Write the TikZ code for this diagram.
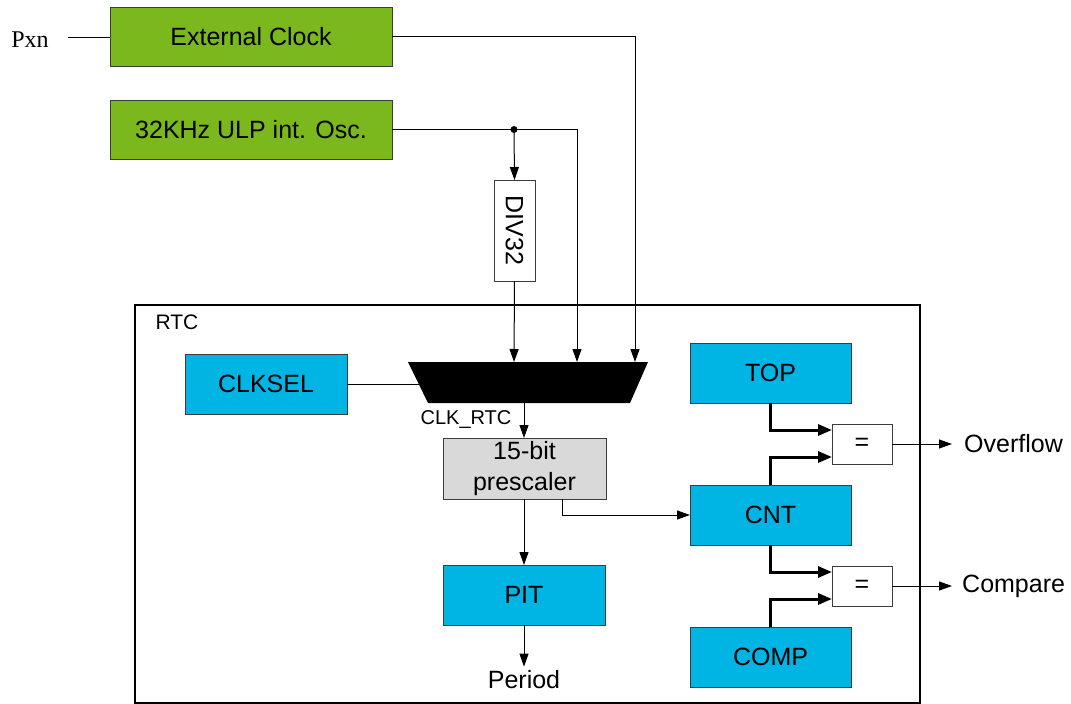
\documentclass[tikz,border=0pt]{standalone}
\usepackage{fontspec}
\setmainfont{Liberation Sans}
\newfontfamily\serifpx{Liberation Serif}
\usetikzlibrary{arrows.meta}
\definecolor{blkgreen}{RGB}{122,184,30}
\definecolor{blkcyan}{RGB}{0,180,228}
\definecolor{blkgray}{RGB}{217,217,217}
\definecolor{blkedge}{RGB}{60,60,60}
\tikzset{
  blk/.style={draw=blkedge, line width=1pt, inner sep=0pt, outer sep=0pt, align=center,
    font=\fontsize{25}{31}\selectfont},
  gbox/.style={blk, fill=blkgreen, minimum width=282pt, minimum height=59pt},
  cbox/.style={blk, fill=blkcyan, minimum width=161pt, minimum height=60pt},
  eqbox/.style={blk, fill=white, minimum width=60pt, minimum height=40pt},
  lbl/.style={inner sep=0pt, font=\fontsize{25}{30}\selectfont},
  wire/.style={line width=1pt, draw=black},
  arr/.style={wire, -{Triangle[length=13pt,width=9pt]}},
  tarr/.style={line width=3pt, -{Triangle[length=14pt,width=11pt]}},
}
\begin{document}
\begin{tikzpicture}[x=1pt,y=-1pt]
\useasboundingbox (0,0) rectangle (1071,704);
% RTC frame
\draw[line width=2pt] (135,305) rectangle (920,703);
\node[lbl, font=\fontsize{21}{25}\selectfont] (rtc) at (177,322) {RTC};
% sources
\node[gbox] (ext) at (251,36.5) {External Clock};
\node[gbox] (ulp) at (251,129.5) {32KHz ULP int. Osc.};
\node[lbl, font=\serifpx\fontsize{24}{28}\selectfont] (pxn) at (30,40) {Pxn};
\coordinate (pin) at (68,37);
\draw[wire] (pin) -- (ext.west |- pin);
% DIV32
\node[blk, fill=white, minimum width=41pt, minimum height=101pt] (div) at (514.5,230.5) {};
\node[lbl, rotate=-90] (divt) at (514.5,230.5) {DIV32};
% mux
\coordinate (mtl) at (408,362);
\coordinate (mtr) at (648,362);
\coordinate (mbr) at (630,403);
\coordinate (mbl) at (428,403);
\fill (mtl) -- (mtr) -- (mbr) -- (mbl) -- cycle;
\coordinate (m1) at (514,362);
\coordinate (m2) at (577,362);
\coordinate (m3) at (635,362);
\coordinate (msel) at (418.7,384);
\coordinate (mo) at (524,403);
% junction
\coordinate (j) at (514,129.5);
\draw[arr] (ext.east) -| (m3);
\draw[arr] (ulp.east) -| (m2);
\fill (j) circle (3.5pt);
\draw[arr] (j) -- (div.north);
\draw[arr] (div.south) -- (m1);
% CLKSEL
\node[cbox, minimum width=162pt] (clksel) at (266,384) {CLKSEL};
\draw[wire] (clksel.east) -- (msel);
% prescaler
\node[blk, fill=blkgray, minimum width=163pt, minimum height=61pt] (pre) at (524.5,468.5) {15-bit\\prescaler};
\draw[arr] (mo) -- (mo |- pre.north);
\node[lbl, font=\fontsize{20}{24}\selectfont] (clkrtc) at (466,419) {CLK\_RTC};
% PIT
\node[cbox, minimum width=162pt] (pit) at (524,595) {PIT};
\draw[arr] (pit.north |- pre.south) -- (pit.north);
\node[lbl] (period) at (524,680) {Period};
\draw[arr] (pit.south) -- ([yshift=4pt]period.north);
% right column
\node[cbox] (top) at (770.5,373) {TOP};
\node[cbox] (cnt) at (770.5,515) {CNT};
\node[cbox] (comp) at (770.5,657) {COMP};
\node[eqbox] (eq1) at (862,444) {=};
\node[eqbox] (eq2) at (862,586) {=};
\draw[arr] ([xshift=38pt]pre.south) |- (cnt.west);
\draw[tarr] (top.south) |- ([yshift=14pt]eq1.west);
\draw[tarr] (cnt.north) |- ([yshift=-13pt]eq1.west);
\draw[tarr] (cnt.south) |- ([yshift=14pt]eq2.west);
\draw[tarr] (comp.north) |- ([yshift=-13pt]eq2.west);
\node[lbl, anchor=west] (ovf) at (964,444) {Overflow};
\node[lbl, anchor=west] (cmp) at (962,586) {Compare};
\draw[arr] (eq1.east) -- ([xshift=-12pt]ovf.west);
\draw[arr] (eq2.east) -- ([xshift=-10pt]cmp.west);
\end{tikzpicture}
\end{document}
